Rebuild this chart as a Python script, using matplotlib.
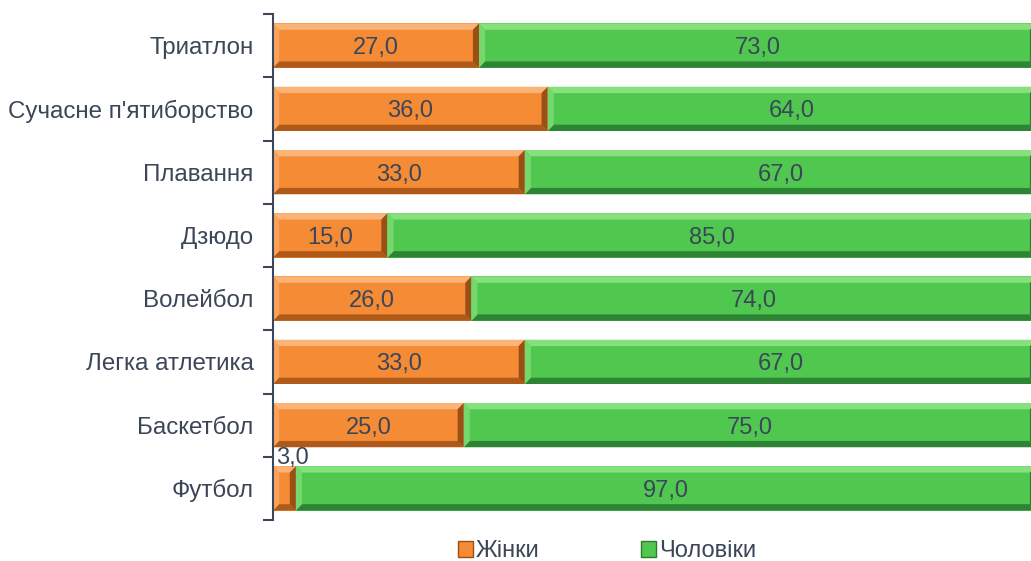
import matplotlib.pyplot as plt
from matplotlib.patches import Polygon, Patch

# data
sports = ['Футбол', 'Баскетбол', 'Легка атлетика', 'Волейбол', 'Дзюдо',
          'Плавання', "Сучасне п'ятиборство", 'Триатлон']
women = [3.0, 25.0, 33.0, 26.0, 15.0, 33.0, 36.0, 27.0]
men = [97.0, 75.0, 67.0, 74.0, 85.0, 67.0, 64.0, 73.0]

plt.rcParams['font.family'] = ['Liberation Sans', 'DejaVu Sans']
txt = '#3b4658'

orange = {'base': '#f58b35', 'top': '#fbb477', 'bot': '#b05a1a', 'left': '#f9a35a', 'right': '#9a4f16'}
green = {'base': '#50c850', 'top': '#86e07c', 'bot': '#2c8434', 'left': '#74d86c', 'right': '#2a7a30'}

fig = plt.figure(figsize=(10.31, 5.61), dpi=100)
ax = fig.add_axes([273 / 1031, 1 - 520 / 561, 763 / 1031, 506 / 561])

h = 0.7
bx, by = 0.8, 0.1


def bevel(x0, x1, yc, c):
    yb, yt = yc - h / 2, yc + h / 2
    ax.barh(yc, x1 - x0, left=x0, height=h, color=c['base'], edgecolor='none')
    b = min(bx, (x1 - x0) / 2)
    ax.add_patch(Polygon([(x0, yt), (x1, yt), (x1 - b, yt - by), (x0 + b, yt - by)], color=c['top'], lw=0))
    ax.add_patch(Polygon([(x0, yb), (x1, yb), (x1 - b, yb + by), (x0 + b, yb + by)], color=c['bot'], lw=0))
    ax.add_patch(Polygon([(x0, yb), (x0, yt), (x0 + b, yt - by), (x0 + b, yb + by)], color=c['left'], lw=0))
    ax.add_patch(Polygon([(x1, yb), (x1, yt), (x1 - b, yt - by), (x1 - b, yb + by)], color=c['right'], lw=0))


for i, (w, m) in enumerate(zip(women, men)):
    bevel(0, w, i, orange)
    bevel(w, w + m, i, green)
    lbl_w = ('%.1f' % w).replace('.', ',')
    lbl_m = ('%.1f' % m).replace('.', ',')
    if w < 5:
        ax.text(w / 2 + 1.1, i + 0.3, lbl_w, ha='center', va='bottom', fontsize=17, color=txt)
    else:
        ax.text(w / 2, i, lbl_w, ha='center', va='center_baseline', fontsize=17, color=txt)
    ax.text(w + m / 2, i, lbl_m, ha='center', va='center_baseline', fontsize=17, color=txt)

ax.set_xlim(0, 100)
ax.set_ylim(-0.5, len(sports) - 0.5)
ax.set_yticks(range(len(sports)))
ax.set_yticklabels(sports, fontsize=17.4, color=txt)
ax.set_yticks([i - 0.5 for i in range(len(sports) + 1)], minor=True)
ax.tick_params(axis='y', which='major', length=0, pad=14)
ax.tick_params(axis='y', which='minor', length=7, width=1.5, color=txt)
ax.set_xticks([])
for s in ['top', 'right', 'bottom']:
    ax.spines[s].set_visible(False)
ax.spines['left'].set_color(txt)
ax.spines['left'].set_linewidth(1.5)

handles = [Patch(facecolor=orange['base'], edgecolor=orange['right'], label='Жінки'),
           Patch(facecolor=green['base'], edgecolor=green['right'], label='Чоловіки')]
fig.legend(handles=handles, loc='center', bbox_to_anchor=(607 / 1031, 1 - 551 / 561), ncol=2,
           frameon=False, fontsize=17, labelcolor=txt, handlelength=0.65, handleheight=0.65,
           handletextpad=0.1, columnspacing=4.3)

fig.savefig('out.png', dpi=100)
